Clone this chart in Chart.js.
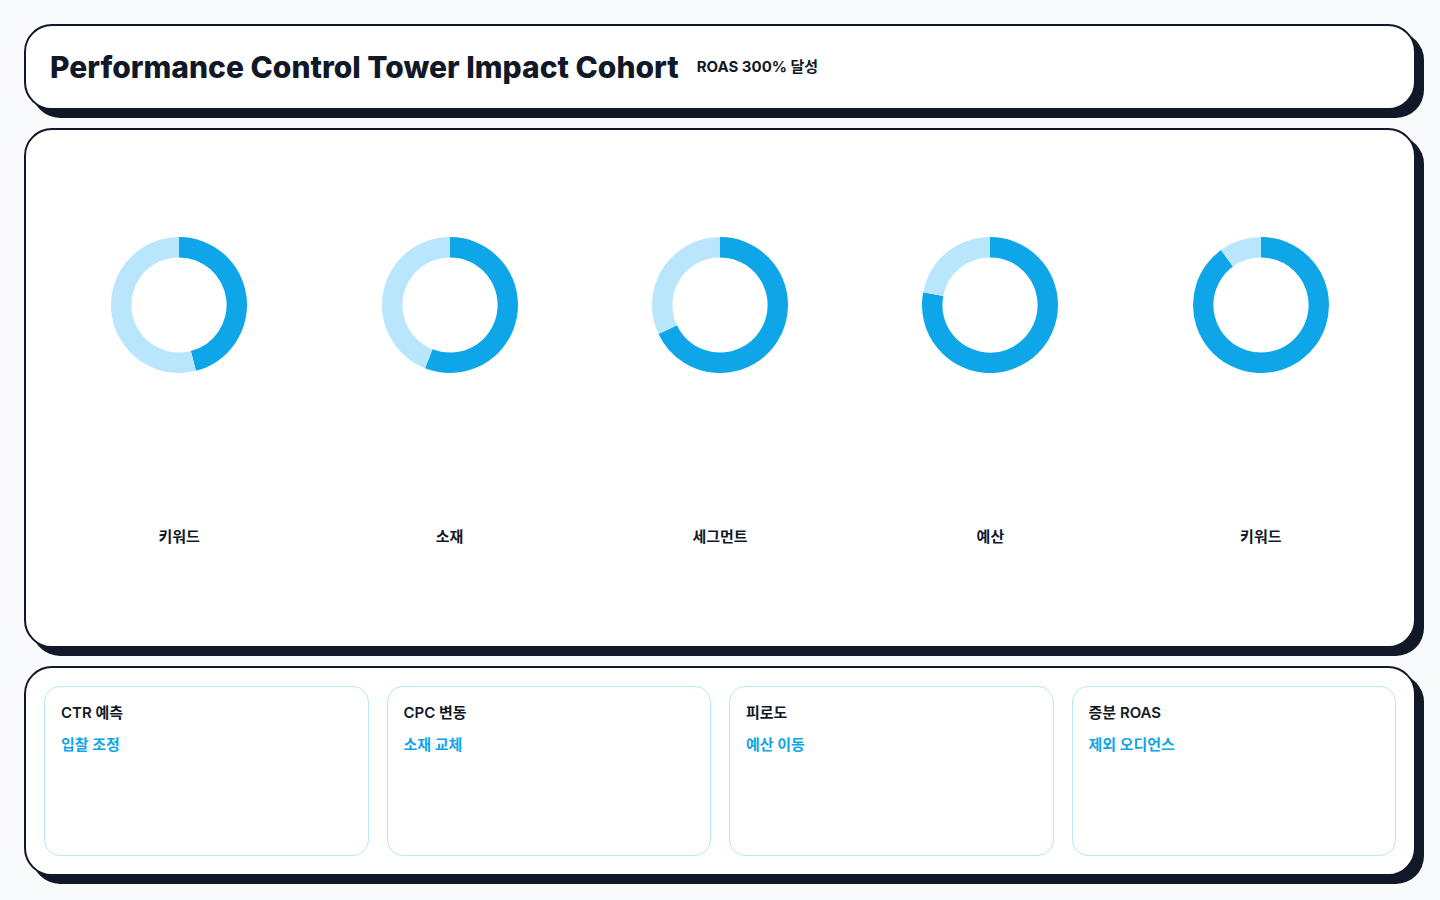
<!DOCTYPE html>
<html lang="ko">
<head>
<meta charset="utf-8">
<title>Performance Control Tower Impact Cohort</title>
<script src="https://cdn.jsdelivr.net/npm/chart.js@4.4.0/dist/chart.umd.min.js"></script>
<style>
    * { box-sizing: border-box; }
    html, body {
        margin: 0;
        padding: 0;
        background: #f8fafc;
        font-family: Inter, "Noto Sans CJK KR", "Noto Sans", sans-serif;
        color: #111827;
    }
    .page {
        padding: 24px;
        width: 1440px;
    }
    .card {
        background: #ffffff;
        border: 2px solid #111827;
        border-radius: 28px;
        box-shadow: 8px 8px 0 #111827;
        margin-bottom: 18px;
    }
    .header {
        display: flex;
        align-items: center;
        height: 86px;
        padding: 0 24px;
    }
    .header h1 {
        margin: 0;
        font-size: 30px;
        font-weight: 800;
    }
    .header .badge {
        margin-left: 18px;
        font-size: 15px;
        font-weight: 700;
        position: relative;
        top: -2px;
    }
    .donuts {
        height: 520px;
        padding: 18px;
        display: grid;
        grid-template-columns: repeat(5, 1fr);
    }
    .cell {
        display: flex;
        flex-direction: column;
        align-items: center;
    }
    .chartBox {
        height: 314px;
        width: 100%;
        display: flex;
        align-items: center;
        justify-content: center;
    }
    .chartBox .wrap {
        position: relative;
        width: 136px;
        height: 136px;
    }
    .cell .label {
        margin-top: 65px;
        font-size: 15px;
        line-height: 20px;
        font-weight: 700;
    }
    .notes {
        height: 210px;
        padding: 18px;
        display: grid;
        grid-template-columns: repeat(4, 1fr);
        gap: 18px;
    }
    .note {
        border: 1px solid #bae6fd;
        border-radius: 16px;
        padding: 16px;
    }
    .note .metric {
        font-size: 15px;
        font-weight: 600;
        line-height: 20px;
    }
    .note .action {
        margin-top: 12px;
        font-size: 15px;
        font-weight: 700;
        line-height: 20px;
        color: #0ea5e9;
    }
</style>
</head>
<body>
<div class="page">
    <div class="card header">
        <h1>Performance Control Tower Impact Cohort</h1>
        <span class="badge">ROAS 300% 달성</span>
    </div>
    <div class="card donuts" id="donuts"></div>
    <div class="card notes" id="notes"></div>
</div>
<script>
const segments = ["키워드", "소재", "세그먼트", "예산", "키워드"];
const achieved = [46, 56, 68, 78, 90];
const remaining = [54, 44, 32, 22, 10];

const metrics = ["CTR 예측", "CPC 변동", "피로도", "증분 ROAS"];
const actions = ["입찰 조정", "소재 교체", "예산 이동", "제외 오디언스"];

const mainColor = "#0ea5e9";
const restColor = "#bae6fd";

const donutsEl = document.getElementById("donuts");

segments.forEach((name, i) => {
    const cell = document.createElement("div");
    cell.className = "cell";
    cell.innerHTML =
        '<div class="chartBox"><div class="wrap"><canvas></canvas></div></div>' +
        '<div class="label"></div>';
    cell.querySelector(".label").textContent = name;
    donutsEl.appendChild(cell);

    const ctx = cell.querySelector("canvas").getContext("2d");
    new Chart(ctx, {
        type: "doughnut",
        data: {
            labels: ["달성", "잔여"],
            datasets: [
                {
                    data: [achieved[i], remaining[i]],
                    backgroundColor: [mainColor, restColor],
                    borderWidth: 0,
                },
            ],
        },
        options: {
            responsive: true,
            maintainAspectRatio: false,
            cutout: "70%",
            animation: false,
            plugins: {
                legend: { display: false },
                tooltip: { enabled: false },
            },
        },
    });
});

const notesEl = document.getElementById("notes");
metrics.forEach((m, i) => {
    const box = document.createElement("div");
    box.className = "note";
    box.innerHTML = '<div class="metric"></div><div class="action"></div>';
    box.querySelector(".metric").textContent = m;
    box.querySelector(".action").textContent = actions[i];
    notesEl.appendChild(box);
});
</script>
</body>
</html>
